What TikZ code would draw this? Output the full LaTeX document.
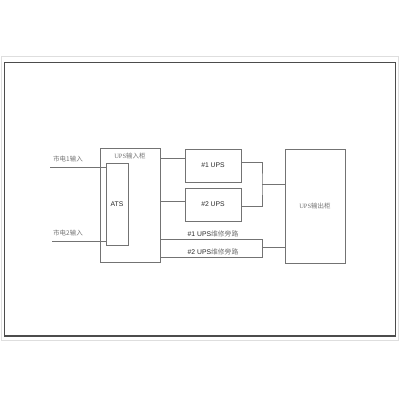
\documentclass[tikz,border=0pt]{standalone}
\usepackage{fontspec}
\setmainfont{Liberation Sans}
\newfontfamily\cjk{Noto Sans CJK SC}
\newfontfamily\latserif{Liberation Serif}
\usetikzlibrary{positioning}
\definecolor{lineGray}{gray}{0.45}
\definecolor{frameDark}{gray}{0.3}
\definecolor{textGray}{gray}{0.45}
\definecolor{frameGray}{gray}{0.87}
\newcommand{\zh}[1]{{\cjk\color{textGray}#1}}
\tikzset{
	%Define style for boxes
	box/.style={
		rectangle,
		draw=lineGray, line width=0.7pt,
		inner sep=0pt, outer sep=0pt},
	% Define wire style
	wireStyle/.style={
		draw=lineGray,
		line width=0.7pt},
	% Define text styles
	zhText/.style={font=\cjk\fontsize{6.5}{7}\selectfont, text=textGray, inner sep=1pt},
	cabText/.style={font=\latserif\fontsize{6.5}{7}\selectfont, text=textGray, inner sep=1pt},
	upsText/.style={font=\fontsize{6.8}{8}\selectfont, text=black!85, inner sep=1pt}
}

\begin{document}
\begin{tikzpicture}[x=1pt,y=1pt]
		\useasboundingbox (0,0) rectangle (400,400);
		
		%frames
		\draw[frameGray, line width=0.8pt] (1.5,60) rectangle (398.5,344);
		\draw[frameDark, line width=1.4pt] (4.5,64) rectangle (395.5,337.5);
		
		%nodes
		\node[box, minimum width=60pt, minimum height=114pt] (inCab) at (130,195) {};
		\node[cabText, below=4pt of inCab.north] (inCabTxt) {UPS\zh{输入柜}};
		\node[box, minimum width=22pt, minimum height=82pt] (ats) at (117,196) {};
		\node[upsText] (atsTxt) at (ats.center) {ATS};
		
		\node[box, minimum width=56pt, minimum height=33pt] (ups1) at (213,234.5) {};
		\node[upsText] (ups1Txt) at (ups1.center) {\#1 UPS};
		\node[box, minimum width=56pt, minimum height=33pt, below=6pt of ups1] (ups2) {};
		\node[upsText] (ups2Txt) at (ups2.center) {\#2 UPS};
		
		\node[box, minimum width=60pt, minimum height=114pt] (outCab) at (315,194) {};
		\node[cabText] (outCabTxt) at (outCab.center) {UPS\zh{输出柜}};
		
		%mains inputs
		\coordinate (main1) at (50,233);
		\coordinate (main2) at (52,159);
		\node[zhText, anchor=south west] (main1Txt) at (52,237) {市电1输入};
		\node[zhText, anchor=south west] (main2Txt) at (52,163) {市电2输入};
		\draw[wireStyle] (main1) -- (main1 -| ats.west);
		\draw[wireStyle] (main2) -- (main2 -| ats.west);
		
		%input cabinet to UPS
		\coordinate (u1In) at ([yshift=7.5pt]ups1.west);
		\coordinate (u2In) at ([yshift=3.5pt]ups2.west);
		\draw[wireStyle] (u1In -| inCab.east) -- (u1In);
		\draw[wireStyle] (u2In -| inCab.east) -- (u2In);
		
		%UPS to output cabinet
		\coordinate (u1Out) at ([yshift=3.5pt]ups1.east);
		\coordinate (u2Out) at ([yshift=-1.5pt]ups2.east);
		\coordinate (joinA) at (262,216);
		\draw[wireStyle] (u1Out) -| (joinA) |- (u2Out);
		\draw[wireStyle] (joinA) -- (joinA -| outCab.west);
		
		%bypass lines
		\coordinate (by1) at (262,161);
		\coordinate (by2) at (262,143);
		\coordinate (joinB) at (262,153);
		\draw[wireStyle] (by1 -| inCab.east) -- (by1) -- (by2) -- (by2 -| inCab.east);
		\draw[wireStyle] (joinB) -- (joinB -| outCab.west);
		\node[upsText, above=0.5pt of ups2Txt |- by1] (by1Txt) {\#1 UPS\zh{维修旁路}};
		\node[upsText, above=0.5pt of ups2Txt |- by2] (by2Txt) {\#2 UPS\zh{维修旁路}};
		
		\end{tikzpicture}
\end{document}
